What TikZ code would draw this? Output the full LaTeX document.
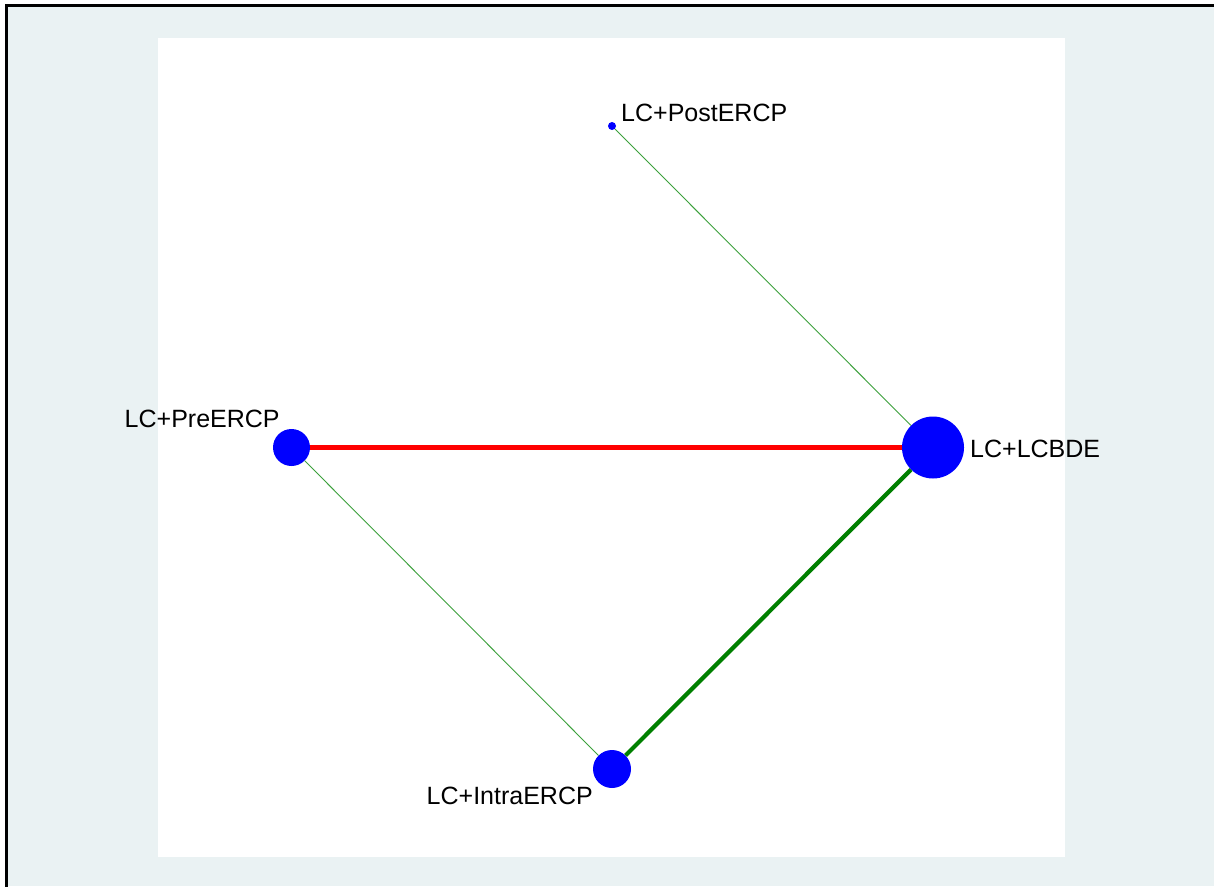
\documentclass[tikz,border=0pt]{standalone}
\usepackage{fontspec}
\setmainfont{Liberation Sans}
\definecolor{bgblue}{RGB}{234,242,243}
\definecolor{nodeblue}{RGB}{0,0,255}
\definecolor{edgegreen}{RGB}{0,128,0}
\definecolor{thingreen}{RGB}{60,160,60}
\definecolor{edgered}{RGB}{255,0,0}
\begin{document}
\begin{tikzpicture}[x=1pt,y=-1pt,
  trt/.style={circle,fill=nodeblue,draw=none,inner sep=0pt,minimum size=#1},
  lbl/.style={inner sep=0pt,font=\fontsize{25}{28}\selectfont},
  thick edge/.style={line width=4.2pt},
  thin edge/.style={draw=thingreen,line width=0.9pt}]
\useasboundingbox (0,0) rectangle (1214,886);
\fill[white] (0,0) rectangle (1214,886);
\fill[bgblue] (6.5,5.5) rectangle (1214,886);
\draw[line width=3pt,line cap=rect] (6.5,886) -- (6.5,5.5) -- (1214,5.5);
\fill[white] (158,38) rectangle (1065,857);
% treatment nodes
\node[trt=8pt]  (post)  at (612,126) {};
\node[trt=62pt] (lcbde) at (933,447.5) {};
\node[trt=37pt] (pre)   at (291.5,447.5) {};
\node[trt=38pt] (intra) at (612,769) {};
% labels
\node[lbl,anchor=west] (postl)  at (621,112.5) {LC+PostERCP};
\node[lbl,anchor=west] (lcbdel) at (970,449) {LC+LCBDE};
\node[lbl,anchor=west] (prel)   at (124.5,419) {LC+PreERCP};
\node[lbl,anchor=west] (intral) at (426.5,796) {LC+IntraERCP};
% edges
\draw[thin edge] (post) -- (lcbde);
\draw[thin edge] (pre) -- (intra);
\draw[thick edge,draw=edgered] (pre) -- (lcbde);
\draw[thick edge,draw=edgegreen] (intra) -- (lcbde);
\end{tikzpicture}
\end{document}
